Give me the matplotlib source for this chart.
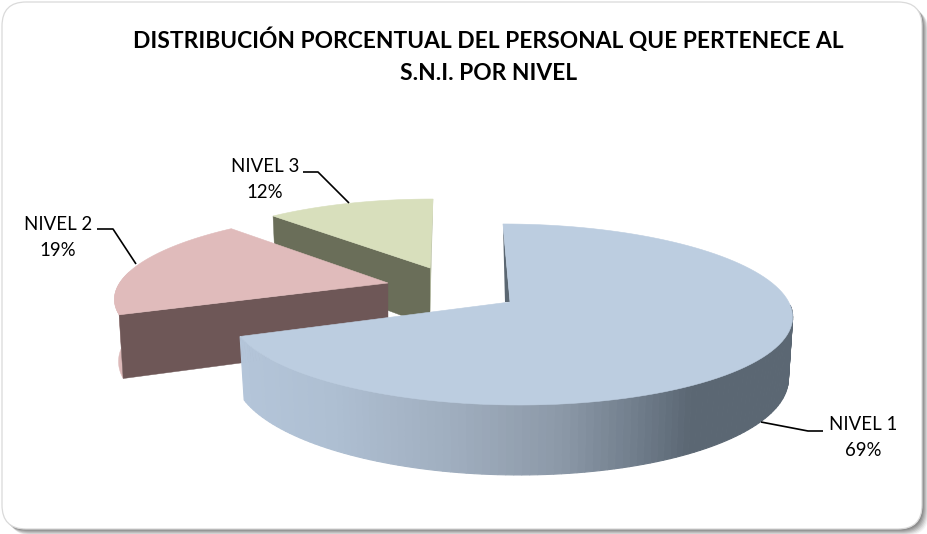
import numpy as np
import matplotlib
matplotlib.use("Agg")
import matplotlib.pyplot as plt
from matplotlib.patches import Polygon, FancyBboxPatch
from matplotlib.colors import to_rgb

plt.rcParams['font.family'] = ['Lato', 'DejaVu Sans']

# ---- data ----
categories = ["NIVEL 1", "NIVEL 2", "NIVEL 3"]
percentages = [69, 19, 12]
title_lines = ["DISTRIBUCIÓN PORCENTUAL DEL PERSONAL QUE PERTENECE AL",
               "S.N.I. POR NIVEL"]

# ---- style ----
top_colors = ["#BCCDE0", "#E0BBBB", "#D8DFBC"]
face_colors = ["#5B6772", "#6E5757", "#6A6E59"]
side_colors = ["#B4C5D9", "#DDB9B9", "#BCC3A6"]
# per-slice projection: apex x, apex y, A, B, S, depth
proj = [(510, 302, 278.7, 88.8, 8.0, 60.3),
        (388, 283, 268.4, 82.0, -15.4, 60.5),
        (430, 268, 256.0, 78.5, -3.4, 58.0)]
K = 0.138
BOTTOM_SCALE = 0.985

fig = plt.figure(figsize=(9.28, 5.34), dpi=100)
ax = fig.add_axes([0, 0, 1, 1])
ax.set_xlim(0, 928)
ax.set_ylim(534, 0)
ax.axis("off")

# ---- rounded frame with soft shadow ----
fx0, fy0, fw, fh, rad = 2, 2, 920, 527, 24
for off, alpha in zip(range(7, 0, -1), [.06, .09, .12, .15, .18, .22, .26]):
    ax.add_patch(FancyBboxPatch((fx0 + rad + off, fy0 + rad + off), fw - 2 * rad, fh - 2 * rad,
                                boxstyle=f"round,pad={rad}", fc="#505050", ec="none",
                                alpha=alpha, zorder=1))
ax.add_patch(FancyBboxPatch((fx0 + rad, fy0 + rad), fw - 2 * rad, fh - 2 * rad,
                            boxstyle=f"round,pad={rad}", fc="white", ec="#DADADA", lw=0.9, zorder=2))


def top_pt(theta, p):
    x0, y0, A, B, S, D = p
    u, v = np.sin(theta), -np.cos(theta)
    den = 1 - K * v
    return x0 + (A * u + S * v) / den, y0 + B * v / den


def bot_pt(theta, p):
    x0, y0, A, B, S, D = p
    x, y = top_pt(theta, p)
    v = -np.cos(theta)
    return x0 + (x - x0) * BOTTOM_SCALE, y + D / (1 - K * v)


# cumulative angles, clockwise from 12 o'clock
total = sum(percentages)
edges = np.concatenate([[0], np.cumsum(percentages)]) * 2 * np.pi / total

grad_x = [240, 330, 450, 560, 640, 690, 800]
grad_c = np.array([to_rgb(c) for c in
                   ["#B4C5D9", "#AEBFD2", "#A0AEBF", "#8C99A8", "#6F7C8A", "#5B6773", "#5B6773"]])

# paint back to front: NIVEL 3, NIVEL 2, NIVEL 1
for i in [2, 1, 0]:
    a0, a1 = edges[i], edges[i + 1]
    p = proj[i]
    z = 10 + (2 - i) * 3
    th = np.linspace(a0, a1, 120)
    apex_top = (p[0], p[1])
    apex_bot = (p[0], p[1] + p[5])
    if i == 0:
        # curved outer wall, shaded facet by facet
        facets = np.linspace(np.deg2rad(92), a1, 110)
        for t0, t1 in zip(facets[:-1], facets[1:]):
            q = [top_pt(t0, p), top_pt(t1, p), bot_pt(t1, p), bot_pt(t0, p)]
            xm = (q[0][0] + q[1][0]) / 2
            col = [np.interp(xm, grad_x, grad_c[:, k]) for k in range(3)]
            ax.add_patch(Polygon(q, fc=col, ec=col, lw=.8, zorder=z))
        # sliver of the radial face at 12 o'clock
        ax.add_patch(Polygon([top_pt(a0, p), apex_top, (p[0] - 5, p[1])],
                             fc=face_colors[0], ec="none", zorder=z))
    else:
        # radial face at the start angle, turned to the viewer
        ax.add_patch(Polygon([apex_top, top_pt(a0, p), bot_pt(a0, p), apex_bot],
                             fc=face_colors[i], ec=face_colors[i], lw=.3, zorder=z))
        if i == 1:
            tt = np.linspace(a0, np.deg2rad(278), 20)
            wall = [top_pt(t, p) for t in tt] + [bot_pt(t, p) for t in tt[::-1]]
            ax.add_patch(Polygon(wall, fc=side_colors[1], ec=side_colors[1], lw=.3, zorder=z - .5))
        else:
            ax.add_patch(Polygon([top_pt(a1, p), apex_top, (p[0], p[1] + 43)],
                                 fc=side_colors[2], ec=side_colors[2], lw=.3, zorder=z - .5))
    # top face
    pts = [apex_top] + [top_pt(t, p) for t in th]
    ax.add_patch(Polygon(pts, fc=top_colors[i], ec=top_colors[i], lw=.4, zorder=z + 1))

# ---- leader lines ----
leader_x = [[761, 808, 823], [97, 113, 136], [303, 318, 349]]
leader_y = [[422, 431, 431], [229, 229, 264], [172, 172, 203]]
for lx, ly in zip(leader_x, leader_y):
    ax.plot(lx, ly, color="black", lw=1.2, zorder=30, solid_capstyle="butt")

# ---- text ----
label_x = [863, 58, 265]
label_y = [425, 225, 167]
for name, val, x, y in zip(categories, percentages, label_x, label_y):
    ax.text(x, y, name, ha="center", va="center", fontsize=13.4, color="black", zorder=31)
    ax.text(x, y + 25, f"{val}%", ha="center", va="center", fontsize=13.4, color="black", zorder=31)

for line, y in zip(title_lines, [40, 73]):
    ax.text(488.5, y, line, ha="center", va="center", fontsize=16.4, fontweight="bold",
            color="black", zorder=31)

fig.savefig("out.png", dpi=100, facecolor="white")
